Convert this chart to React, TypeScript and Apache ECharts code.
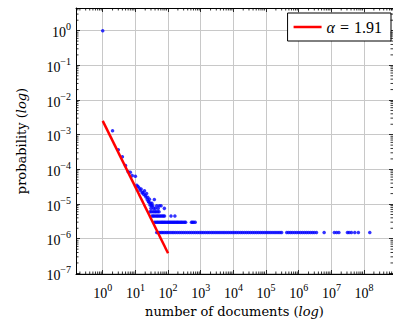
import React, { useEffect, useRef } from 'react';
import * as echarts from 'echarts';

// ---- data ----
const fitName = 'α = 1.91';
const fitLine: [number, number][] = [[1, 2.5e-3], [100, 3.8e-7]];

const headPoints: [number, number][] = [
  [1, 1.0], [2, 1.3e-3], [3, 3.7e-4], [4, 2.3e-4], [5, 1.3e-4], [6, 8.5e-5], [7, 8.2e-5], [8, 6.6e-5], [10, 6.3e-5],
];
const bodyPoints: [number, number][] = [
  [11, 3.5e-5], [12, 3.2e-5], [13, 2.9e-5], [14, 2.5e-5], [15, 2.7e-5], [16, 2.1e-5], [17, 2.2e-5], [18, 1.9e-5],
  [19, 2.4e-5], [20, 1.8e-5], [21, 1.6e-5], [22, 2.0e-5], [23, 1.35e-5], [24, 1.57e-5], [25, 1.2e-5], [26, 1.12e-5],
  [27, 1.37e-5], [28, 9.4e-6], [29, 1.05e-5], [30, 7.5e-6], [31, 8.9e-6], [32, 1.05e-5], [34, 8.9e-6], [36, 7.5e-6],
  [38, 1.35e-5], [41, 7.5e-6], [45, 8.9e-6], [50, 7.5e-6], [54, 8.9e-6], [61, 8.9e-6], [77, 7.5e-6],
];
const rowFourProb = 6.0e-6;
const rowFourDocs = [28, 31, 35, 39, 43, 48, 53];
const rowThreeProb = 4.5e-6;
const rowThreeDocs = [32, 35, 38, 42, 46, 50, 55, 60, 66, 72, 78, 123, 162];
const rowTwoProb = 3.0e-6;
const rowTwoDocs = [38, 42, 46, 50, 55, 60, 65, 70, 76, 82, 90, 98, 106, 115, 125, 136, 148, 160, 175, 190, 205, 225,
  245, 265, 290, 320, 345, 520, 560, 610, 680];
const rowOneProb = 1.5e-6;
const rowOneDocs = [
  45, 50, 56, 63, 70, 79, 89,
  100, 115, 132, 150, 172, 198, 228, 262, 300, 345, 398, 457, 525, 603, 692, 795, 910,
  1050, 1200, 1380, 1590, 1820, 2100, 2400, 2760, 3170, 3640, 4180, 4800, 5500, 6320, 7260, 8340, 9580,
  11000, 12600, 14500, 16700, 19100, 22000, 25300, 29000, 33300, 38300, 44000, 50500, 58000, 66600, 76500, 87900,
  101000, 116000, 133000, 153000, 176000, 202000, 232000, 266000, 300000,
  430000, 490000, 560000, 640000, 740000, 850000, 980000, 1130000, 1300000, 1500000, 1720000, 1980000, 2280000,
  2620000, 3000000, 3500000,
  6000000, 12300000, 14500000, 17000000, 31000000, 35000000, 41000000, 52000000, 67000000, 150000000,
];

// axis bounds and minor tick layout
const X_MIN = 0.152;
const X_MAX = 7.7e8;
const Y_MIN = 9.6e-8;
const Y_MAX = 4.5;
const minorMultipliers = [2, 3, 4, 5, 6, 7, 8, 9];
const xDecades = [0.1, 1, 10, 100, 1e3, 1e4, 1e5, 1e6, 1e7, 1e8];
const yDecades = [1e-8, 1e-7, 1e-6, 1e-5, 1e-4, 1e-3, 1e-2, 1e-1, 1];

const TICK_FONT = 'Liberation Serif';
const NAME_FONT = 'DejaVu Serif';

function expLabel(v: number) {
  const e = Math.round(Math.log10(v));
  const s = e < 0 ? '\u2212' + Math.abs(e) : String(e);
  return `{b|10}{s|${s}}`;
}
const labelRich = {
  b: { fontFamily: TICK_FONT, fontSize: 14, color: '#000', padding: [4, 0, 0, 0], verticalAlign: 'bottom' },
  s: { fontFamily: TICK_FONT, fontSize: 10, color: '#000', verticalAlign: 'top' },
};

export default function App() {
  const ref = useRef<HTMLDivElement>(null);
  useEffect(() => {
    if (!ref.current) return;
    const chart = echarts.init(ref.current, null, { renderer: 'svg' });

    const scatterData: [number, number][] = [
      ...headPoints,
      ...bodyPoints,
      ...rowFourDocs.map((d) => [d, rowFourProb] as [number, number]),
      ...rowThreeDocs.map((d) => [d, rowThreeProb] as [number, number]),
      ...rowTwoDocs.map((d) => [d, rowTwoProb] as [number, number]),
      ...rowOneDocs.map((d) => [d, rowOneProb] as [number, number]),
    ];

    const xMinor: number[] = [];
    xDecades.forEach((d) => minorMultipliers.forEach((m) => {
      const v = d * m;
      if (v > X_MIN && v < X_MAX) xMinor.push(v);
    }));
    const yMinor: number[] = [];
    yDecades.forEach((d) => minorMultipliers.forEach((m) => {
      const v = d * m;
      if (v > Y_MIN && v < Y_MAX) yMinor.push(v);
    }));

    const tickLine = { stroke: '#000', lineWidth: 0.8 };

    const baseX = {
      type: 'log', logBase: 10, min: X_MIN, max: X_MAX, splitNumber: 10,
    };
    const baseY = {
      type: 'log', logBase: 10, min: Y_MIN, max: Y_MAX, splitNumber: 10,
    };

    chart.setOption({
      animation: false,
      grid: { left: 76, right: -1, top: 8, bottom: 55, containLabel: false },
      legend: {
        data: [{ name: fitName, icon: 'rect' }],
        right: 2,
        top: 13,
        orient: 'vertical',
        padding: [5, 9, 5, 6],
        itemWidth: 28,
        itemHeight: 2.5,
        borderColor: '#000',
        borderWidth: 1,
        backgroundColor: '#fff',
        formatter: () => '{a|α}{e|=}{n|1.91}',
        textStyle: {
          fontFamily: TICK_FONT,
          fontSize: 16,
          color: '#000',
          lineHeight: 18,
          rich: {
            a: { fontFamily: TICK_FONT, fontSize: 16, fontStyle: 'italic', color: '#000', lineHeight: 18 },
            e: { fontFamily: TICK_FONT, fontSize: 16, color: '#000', padding: [0, 5, 0, 5], lineHeight: 18 },
            n: { fontFamily: TICK_FONT, fontSize: 16, color: '#000', lineHeight: 18 },
          },
        },
      },
      xAxis: [
        {
          ...baseX,
          position: 'bottom',
          name: 'number of documents ({i|log})',
          nameLocation: 'middle',
          nameGap: 22,
          nameTextStyle: {
            fontFamily: NAME_FONT, fontSize: 13, color: '#000', verticalAlign: 'top',
            rich: { i: { fontFamily: NAME_FONT, fontSize: 13, fontStyle: 'italic', color: '#000' } },
          },
          axisLine: { show: true, lineStyle: { color: '#000', width: 1 } },
          axisTick: { show: true, inside: true, length: 4, lineStyle: { color: '#000', width: 0.8 } },
          axisLabel: { formatter: expLabel, rich: labelRich, margin: 8, showMinLabel: false, showMaxLabel: false },
          splitLine: { show: true, lineStyle: { color: '#c8c8c8', width: 1 } },
        },
        {
          ...baseX,
          position: 'top',
          axisLine: { show: true, lineStyle: { color: '#000', width: 1 } },
          axisTick: { show: true, inside: true, length: 4, lineStyle: { color: '#000', width: 0.8 } },
          axisLabel: { show: false },
          splitLine: { show: false },
        },
      ],
      yAxis: [
        {
          ...baseY,
          position: 'left',
          name: 'probability ({i|log})',
          nameLocation: 'middle',
          nameGap: 48,
          nameTextStyle: {
            fontFamily: NAME_FONT, fontSize: 13, color: '#000',
            rich: { i: { fontFamily: NAME_FONT, fontSize: 13, fontStyle: 'italic', color: '#000' } },
          },
          axisLine: { show: true, lineStyle: { color: '#000', width: 1 } },
          axisTick: { show: true, inside: true, length: 4, lineStyle: { color: '#000', width: 0.8 } },
          axisLabel: { formatter: expLabel, rich: labelRich, margin: 5, showMinLabel: false, showMaxLabel: false },
          splitLine: { show: true, lineStyle: { color: '#c8c8c8', width: 1 } },
        },
        {
          ...baseY,
          position: 'right',
          axisLine: { show: true, lineStyle: { color: '#000', width: 1 } },
          axisTick: { show: true, inside: true, length: 4, lineStyle: { color: '#000', width: 0.8 } },
          axisLabel: { show: false },
          splitLine: { show: false },
        },
      ],
      series: [
        {
          type: 'custom',
          name: 'xminor',
          silent: true,
          coordinateSystem: 'cartesian2d',
          data: xMinor.map((v) => [v, 1]),
          renderItem: (params: any, api: any) => {
            const p = api.coord([api.value(0), api.value(1)]);
            const cs = params.coordSys;
            const b = cs.y + cs.height;
            return {
              type: 'group',
              children: [
                { type: 'line', shape: { x1: p[0], y1: b, x2: p[0], y2: b - 2.5 }, style: tickLine },
                { type: 'line', shape: { x1: p[0], y1: cs.y, x2: p[0], y2: cs.y + 2.5 }, style: tickLine },
              ],
            };
          },
          z: 5,
        },
        {
          type: 'custom',
          name: 'yminor',
          silent: true,
          coordinateSystem: 'cartesian2d',
          data: yMinor.map((v) => [1, v]),
          renderItem: (params: any, api: any) => {
            const p = api.coord([api.value(0), api.value(1)]);
            const cs = params.coordSys;
            const r = cs.x + cs.width;
            return {
              type: 'group',
              children: [
                { type: 'line', shape: { x1: cs.x, y1: p[1], x2: cs.x + 2.5, y2: p[1] }, style: tickLine },
                { type: 'line', shape: { x1: r, y1: p[1], x2: r - 2.5, y2: p[1] }, style: tickLine },
              ],
            };
          },
          z: 5,
        },
        {
          type: 'scatter',
          name: 'data',
          data: scatterData,
          symbol: 'circle',
          symbolSize: 3.5,
          itemStyle: { color: '#0000ff' },
          silent: true,
          z: 3,
        },
        {
          type: 'line',
          name: fitName,
          data: fitLine,
          symbol: 'none',
          lineStyle: { color: '#ff0000', width: 2.5 },
          itemStyle: { color: '#ff0000' },
          silent: true,
          z: 4,
        },
      ],
    });
    return () => chart.dispose();
  }, []);
  return <div ref={ref} style={{ width: 393, height: 329, position: 'absolute', left: 0, top: 0 }} />;
}
